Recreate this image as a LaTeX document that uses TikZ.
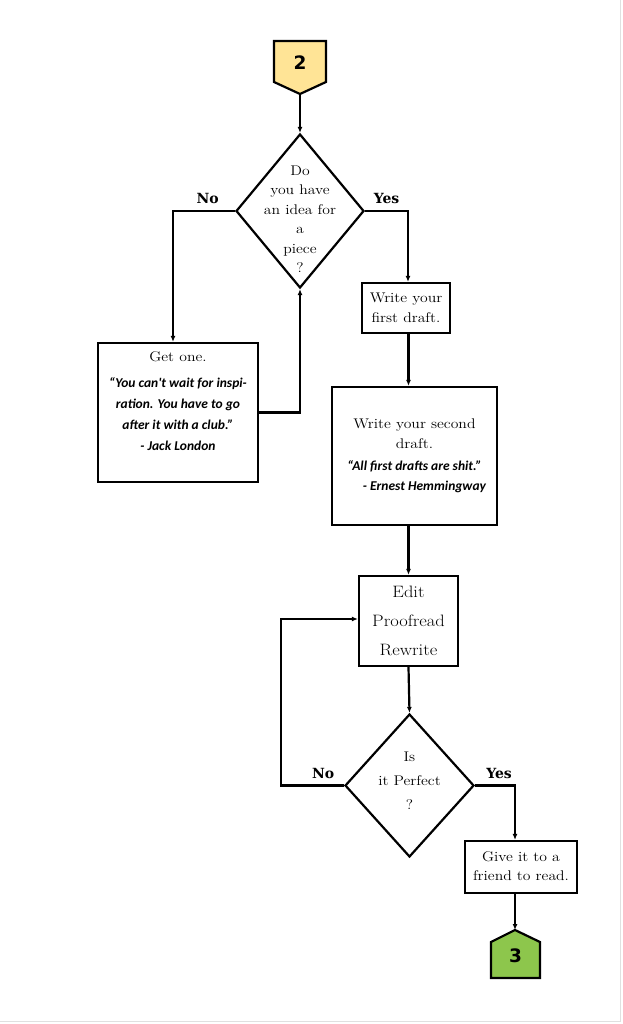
\documentclass[tikz,border=0pt]{standalone}
\usepackage{fontspec}
\setmainfont{Latin Modern Roman}[FakeStretch=1.12]
\newfontfamily\quotefont{Carlito}
\newfontfamily\numfont{DejaVu Sans}
\newfontfamily\answerfont{DejaVu Serif}
\usepackage{xcolor}
\usetikzlibrary{arrows.meta,positioning,shapes.geometric}
\definecolor{startyellow}{RGB}{255,228,150}
\definecolor{endgreen}{RGB}{141,198,76}

\begin{document}
\begin{tikzpicture}[
  x=1pt, y=-1pt,
  line width=2.2pt,
  box/.style={draw, line width=2.2pt, inner sep=0pt},
  decision/.style={diamond, draw, line width=2.2pt, inner sep=0pt},
  txt/.style={align=center, inner sep=0pt, font=\fontsize{14}{19.5}\selectfont},
  quote/.style={align=center, inner sep=0pt, font=\quotefont\bfseries\itshape\fontsize{13.5}{21}\selectfont},
  answer/.style={inner sep=0pt, font=\answerfont\bfseries\fontsize{14}{16}\selectfont},
  num/.style={inner sep=0pt, font=\numfont\bfseries\fontsize{18.5}{20}\selectfont},
  arr/.style={-{Latex[length=6pt,width=5pt]}, line width=2.2pt},
]
\useasboundingbox (0,0) rectangle (622,1024);
\draw[black!12, line width=1.5pt] (620.5,0) -- (620.5,1021.5) -- (0,1021.5);

% start connector
\draw[line width=2.2pt, fill=startyellow] (274,41) -- (326,41) -- (326,82) -- (300,94) -- (274,82) -- cycle;
\node[num] (two) at (300,63) {2};
\coordinate (twotip) at (300,94);

% first question
\node[decision, minimum width=128, minimum height=154] (idea) at (300,211) {};
\node[txt] (ideatxt) at (300,219) {Do\\you have\\an idea for\\a\\piece\\?};

\node[box, minimum width=160, minimum height=139] (getone) at (178,412.5) {};
\node[quote, below=9pt of getone.north] (getonetxt)
  {{\rmfamily\mdseries\upshape\fontsize{14}{21}\selectfont Get one.}\\[5pt]
   “You can't wait for inspi-\\ration. You have to go\\after it with a club.”\\- Jack London};

\node[box, minimum width=88, minimum height=50] (draft1) at (406,308) {};
\node[txt] (draft1txt) at (406,308) {Write your\\first draft.};

\node[box, minimum width=165, minimum height=138] (draft2) at (414.5,456) {};
\node[txt, below=32pt of draft2.north] (draft2txt)
  {Write your second\\draft.\\[3pt]
   {\quotefont\bfseries\itshape\fontsize{13.5}{21}\selectfont “All first drafts are shit.”}\\
   {\quotefont\bfseries\itshape\fontsize{13.5}{21}\selectfont \hspace*{20pt}- Ernest Hemmingway}};

% revision loop
\node[box, minimum width=99, minimum height=90] (edit) at (408.5,621) {};
\node[txt, font=\fontsize{16.5}{29}\selectfont] (edittxt) at (408.5,620.5) {Edit\\Proofread\\Rewrite};

\node[decision, minimum width=129, minimum height=143] (perfect) at (409.5,785.5) {};
\node[txt, font=\fontsize{14}{24}\selectfont] (perfecttxt) at (409.5,781) {Is\\it Perfect\\?};

\node[box, minimum width=112, minimum height=52] (give) at (521,867) {};
\node[txt] (givetxt) at (521,866) {Give it to a\\friend to read.};

% end connector
\draw[line width=2.2pt, fill=endgreen] (515,930) -- (540,942) -- (540,978) -- (491,978) -- (491,942) -- cycle;
\node[num] (three) at (515.5,956) {3};
\coordinate (threetip) at (515,930);

\draw[arr] (twotip) -- (idea.north);
\draw[arr] (idea.west) -| node[answer, pos=0.22, above=6pt]{No} ([xshift=-5pt]getone.north);
\draw[arr] (getone.east) -| (idea.south);
\draw[arr] (idea.east) -| node[answer, pos=0.25, above=6pt]{Yes} ([xshift=2pt]draft1.north);
\draw[arr] (draft1.south -| edit.north) -- (draft2.north -| edit.north);
\draw[arr] (draft2.south -| edit.north) -- (edit.north);
\draw[arr] (edit.south) -- (perfect.north);
\draw[arr] (perfect.west) -- node[answer, pos=0.33, above=6pt]{No} ++(-63,0) |- ([yshift=2pt]edit.west);
\draw[arr] (perfect.east) -| node[answer, pos=0.3, above=6pt]{Yes} ([xshift=-6pt]give.north);
\draw[arr] ([xshift=-6pt]give.south) -- (threetip);
\end{tikzpicture}
\end{document}
